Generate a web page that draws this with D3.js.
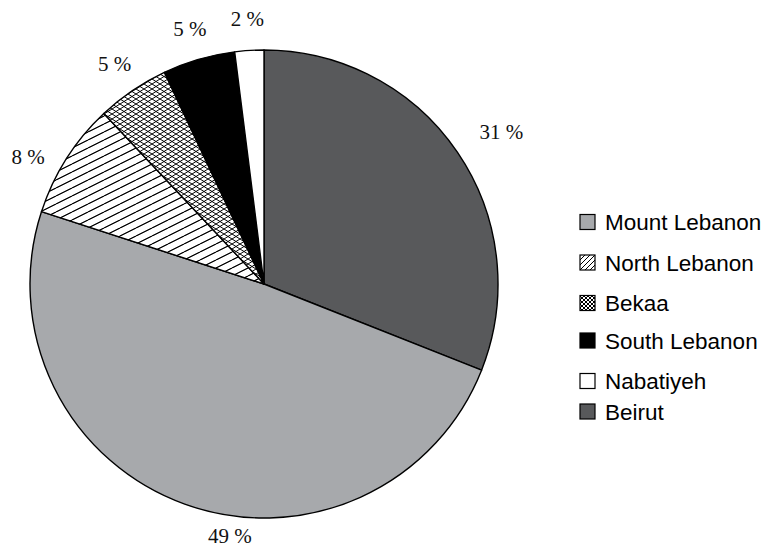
<!DOCTYPE html>
<html>
<head>
<meta charset="utf-8">
<script src="https://cdn.jsdelivr.net/npm/d3@7"></script>
<style>
  html, body { margin: 0; padding: 0; background: #fff; }
  svg { display: block; }
</style>
</head>
<body>
<svg id="chart" width="764" height="550"></svg>
<script>
// Share of each governorate, in pie order (clockwise from 12 o'clock)
const regions = ["Beirut", "Mount Lebanon", "North Lebanon", "Bekaa", "South Lebanon", "Nabatiyeh"];
const shares = [31, 49, 8, 5, 5, 2];
// Legend order
const legendOrder = ["Mount Lebanon", "North Lebanon", "Bekaa", "South Lebanon", "Nabatiyeh", "Beirut"];

const svg = d3.select("#chart");
const cx = 264, cy = 284, R = 234;

// ---- fill patterns ----
const defs = svg.append("defs");

function hatch(id, w, h, lines) {
  const p = defs.append("pattern")
    .attr("id", id).attr("patternUnits", "userSpaceOnUse")
    .attr("width", w).attr("height", h);
  p.append("rect").attr("width", w).attr("height", h).attr("fill", "#fff");
  lines.forEach(l => p.append("line")
    .attr("x1", l[0]).attr("y1", l[1]).attr("x2", l[2]).attr("y2", l[3])
    .attr("stroke", "#000").attr("stroke-width", 1));
}
// single diagonal hatching, rising to the right
hatch("diag", 16, 8, [[-16, 16, 16, 0], [0, 8, 16, 0], [0, 16, 32, 0], [-16, 8, 16, -8]]);
// diamond cross-hatching
hatch("cross", 8, 5, [[0, 5, 8, 0], [-8, 5, 0, 0], [8, 5, 16, 0], [0, 0, 8, 5], [-8, 0, 0, 5], [8, 0, 16, 5]]);
// smaller versions for the legend swatches
hatch("diagS", 5, 5, [[0, 5, 5, 0], [-5, 5, 0, 0], [5, 5, 10, 0]]);
hatch("crossS", 4, 4, [[0, 4, 4, 0], [-4, 4, 0, 0], [4, 4, 8, 0], [0, 0, 4, 4], [-4, 0, 0, 4], [4, 0, 8, 4]]);

const fills = {
  "Beirut": "#58595b",
  "Mount Lebanon": "#a7a9ac",
  "North Lebanon": "url(#diag)",
  "Bekaa": "url(#cross)",
  "South Lebanon": "#000",
  "Nabatiyeh": "#fff"
};
const swatchFills = Object.assign({}, fills, {
  "North Lebanon": "url(#diagS)",
  "Bekaa": "url(#crossS)"
});

// ---- pie ----
const data = regions.map((r, i) => ({ region: r, value: shares[i] }));
const pie = d3.pie().sort(null).value(d => d.value);
const arcs = pie(data);
const arc = d3.arc().innerRadius(0).outerRadius(R);

const g = svg.append("g").attr("transform", `translate(${cx},${cy})`);
g.selectAll("path.slice")
  .data(arcs)
  .join("path")
  .attr("class", "slice")
  .attr("d", arc)
  .attr("fill", d => fills[d.data.region])
  .attr("stroke", "#000")
  .attr("stroke-width", 1.4)
  .attr("stroke-linejoin", "round");

// ---- percentage labels ----
const labelRadius = 266;
const deg = Math.PI / 180;
// per-label placement tweaks (angle in degrees, radius in px)
const labelTweak = {
  "Beirut": { da: 1.5, r: 282 },
  "Mount Lebanon": { da: -12.1, r: 254 },
  "North Lebanon": { da: -4.1, r: 268 }
};
g.selectAll("text.pct")
  .data(arcs)
  .join("text")
  .attr("class", "pct")
  .each(function (d) {
    const t = labelTweak[d.data.region] || {};
    const a = (d.startAngle + d.endAngle) / 2 + (t.da || 0) * deg;
    const r = t.r || labelRadius;
    d3.select(this)
      .attr("x", r * Math.sin(a))
      .attr("y", -r * Math.cos(a));
  })
  .attr("dy", "0.35em")
  .attr("text-anchor", "middle")
  .attr("font-family", "'Liberation Serif', 'DejaVu Serif', serif")
  .attr("font-size", 21)
  .attr("fill", "#111")
  .text(d => `${d.data.value} %`);

// ---- legend ----
const legendX = 580, swatch = 15;
const legendRows = [222, 262.5, 303, 340.5, 381, 411.5];
const lg = svg.append("g");
legendOrder.forEach((name, i) => {
  const y = legendRows[i];
  lg.append("rect")
    .attr("x", legendX).attr("y", y - swatch / 2)
    .attr("width", swatch).attr("height", swatch)
    .attr("fill", swatchFills[name])
    .attr("stroke", "#000").attr("stroke-width", 1.2);
  lg.append("text")
    .attr("x", legendX + 25).attr("y", y)
    .attr("dy", "0.36em")
    .attr("font-family", "'Liberation Sans', Arial, sans-serif")
    .attr("font-size", 22.5)
    .attr("fill", "#000")
    .text(name);
});
</script>
</body>
</html>
